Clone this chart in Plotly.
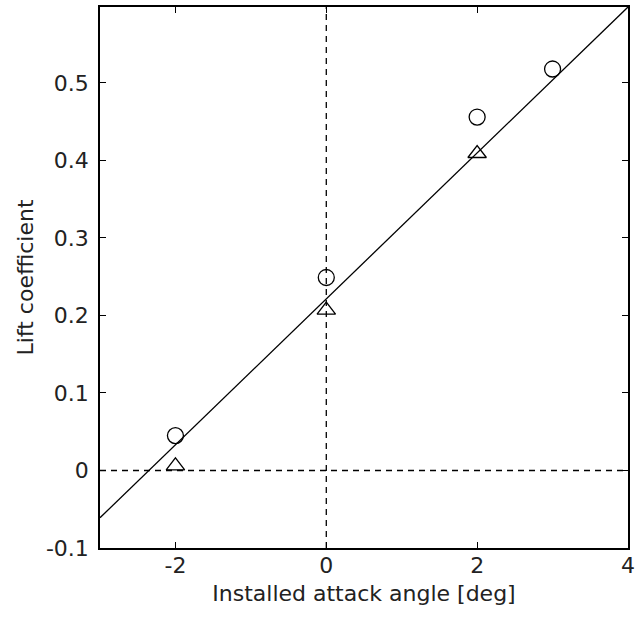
import plotly.graph_objects as go

# Data
angle = [-2, 0, 2, 3]
cl_circle = [0.045, 0.249, 0.456, 0.518]
angle_tri = [-2, 0, 2]
cl_tri = [0.006, 0.207, 0.409]
fit_x = [-3, 4]
fit_y = [-0.061, 0.598]

x_ticks = [-2, 0, 2, 4]
y_ticks = [-0.1, 0, 0.1, 0.2, 0.3, 0.4, 0.5]
y_labels = ["-0.1", "0", "0.1", "0.2", "0.3", "0.4", "0.5"]

FONT = "DejaVu Sans, Arial, sans-serif"
TXT = "#222222"
FS = 22

fig = go.Figure()
# reference dashed lines
fig.add_trace(go.Scatter(x=[-3, 4], y=[0, 0], mode="lines",
                         line=dict(color="black", width=1.3, dash="6px,5px"),
                         showlegend=False, hoverinfo="skip"))
fig.add_trace(go.Scatter(x=[0, 0], y=[-0.1, 0.6], mode="lines",
                         line=dict(color="black", width=1.3, dash="6px,5px"),
                         showlegend=False, hoverinfo="skip"))
# fit line
fig.add_trace(go.Scatter(x=fit_x, y=fit_y, mode="lines",
                         line=dict(color="black", width=1.3),
                         showlegend=False))
fig.add_trace(go.Scatter(x=angle, y=cl_circle, mode="markers",
                         marker=dict(symbol="circle-open", size=16, color="black",
                                     line=dict(width=1.3, color="black")),
                         showlegend=False))
fig.add_trace(go.Scatter(x=angle_tri, y=cl_tri, mode="markers",
                         marker=dict(symbol="triangle-up-open", size=16, color="black",
                                     line=dict(width=1.3, color="black")),
                         showlegend=False))

axis_common = dict(showline=True, linecolor="black", linewidth=1.5, mirror="ticks",
                   ticks="inside", ticklen=6, tickwidth=1.2, tickcolor="black",
                   showgrid=False, zeroline=False,
                   tickfont=dict(family=FONT, size=FS, color=TXT))

fig.update_xaxes(range=[-3, 4], tickvals=x_ticks, ticktext=[str(v) for v in x_ticks],
                 ticklabelstandoff=-3,
                 title=dict(text="Installed attack angle [deg]",
                            font=dict(family=FONT, size=FS, color=TXT), standoff=8),
                 **axis_common)
fig.update_yaxes(range=[-0.1, 0.598], tickvals=y_ticks, ticktext=y_labels,
                 ticklabelstandoff=5,
                 title=dict(text="Lift coefficient",
                            font=dict(family=FONT, size=FS, color=TXT), standoff=6),
                 **axis_common)

fig.update_layout(width=637, height=619, plot_bgcolor="white", paper_bgcolor="white",
                  margin=dict(l=100, r=9, t=7, b=71, autoexpand=False), showlegend=False)

fig.write_html("out.html", config={"displayModeBar": False},
               post_script="document.body.style.margin='0';document.body.style.overflow='hidden';")
